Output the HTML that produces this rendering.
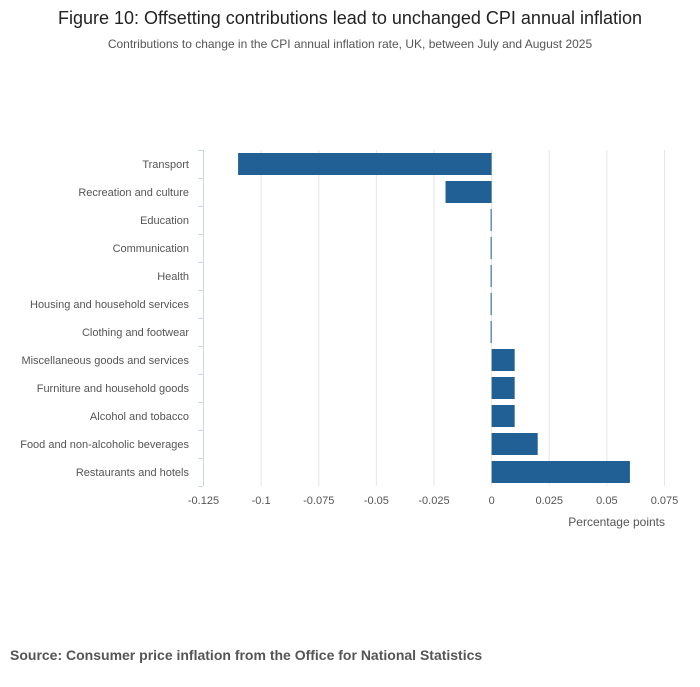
<!DOCTYPE html>
<html><head><meta charset="utf-8"><style>
body{margin:0;background:#fff;font-family:"Liberation Sans",sans-serif;}
svg text{font-family:"Liberation Sans",sans-serif;}
</style></head><body>
<svg width="700" height="682">
<text x="350" y="24" text-anchor="middle" font-size="18" fill="#222">Figure 10: Offsetting contributions lead to unchanged CPI annual inflation</text>
<text x="350" y="48" text-anchor="middle" font-size="12" fill="#555">Contributions to change in the CPI annual inflation rate, UK, between July and August 2025</text>
<g id="grid"></g><g id="bars"></g><g id="ylab"></g><g id="xlab"></g>
<line x1="203.5" y1="150" x2="203.5" y2="486" stroke="#ccd6eb"/>
<text x="665" y="526" text-anchor="end" font-size="12" fill="#555">Percentage points</text>
<text x="10" y="660" font-size="14" font-weight="bold" fill="#555">Source: Consumer price inflation from the Office for National Statistics</text>
</svg>
<script>
const categories=["Transport","Recreation and culture","Education","Communication","Health","Housing and household services","Clothing and footwear","Miscellaneous goods and services","Furniture and household goods","Alcohol and tobacco","Food and non-alcoholic beverages","Restaurants and hotels"];
const values=[-0.11,-0.02,0,0,0,0,0,0.01,0.01,0.01,0.02,0.06];
const xTicks=[-0.125,-0.1,-0.075,-0.05,-0.025,0,0.025,0.05,0.075];
const xTickLabels=["-0.125","-0.1","-0.075","-0.05","-0.025","0","0.025","0.05","0.075"];
const NS="http://www.w3.org/2000/svg";
const plotX0=203.5,plotX1=664.5,xMin=-0.125,xMax=0.075,plotTop=150,band=28;
function xs(v){return plotX0+(v-xMin)/(xMax-xMin)*(plotX1-plotX0);}
function ys(i){return plotTop+i*band;}
function mk(t,a,p){const e=document.createElementNS(NS,t);for(const k in a)e.setAttribute(k,a[k]);document.getElementById(p).appendChild(e);return e;}
xTicks.forEach((t,i)=>{
 if(i>0){const g=mk("line",{x1:xs(t),x2:xs(t),y1:plotTop,y2:plotTop+band*categories.length,stroke:"#e6e6e6"},"grid");
 
 }
 const l=mk("text",{x:xs(t),y:504,"text-anchor":"middle","font-size":11,fill:"#555"},"xlab");l.textContent=xTickLabels[i];
 
 
});
for(let i=0;i<=categories.length;i++){
 const t=mk("line",{x1:198,x2:203,y1:ys(i)+0.5,y2:ys(i)+0.5,stroke:"#ccd6eb"},"grid");
 
 
}
categories.forEach((c,i)=>{
 const v=values[i];let a=xs(Math.min(0,v)),b=xs(Math.max(0,v));
 if(b-a<1){a=xs(0)-1;b=xs(0);}
 const r=mk("rect",{x:a,y:ys(i)+3,width:b-a,height:22,fill:"#206095"},"bars");
 
 
 const l=mk("text",{x:189,y:ys(i)+18,"text-anchor":"end","font-size":11,fill:"#555"},"ylab");l.textContent=c;
 
 
});
</script>
</body></html>
